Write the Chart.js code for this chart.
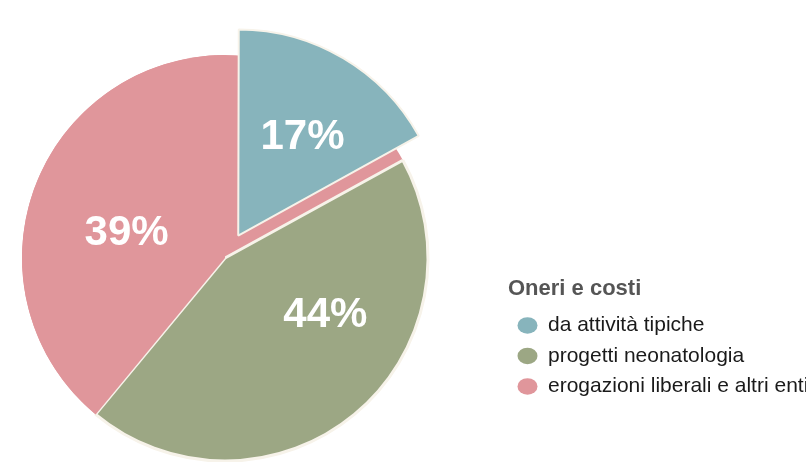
<!DOCTYPE html>
<html>
<head>
<meta charset="utf-8">
<script src="https://cdn.jsdelivr.net/npm/chart.js@4.4.1/dist/chart.umd.min.js"></script>
<style>
  html, body { margin: 0; padding: 0; background: #fff; }
  #frame { position: relative; width: 806px; height: 462px; overflow: hidden; }
  /* chart box is a bit bigger than the page so the pie sits left and low like the original */
  #wrap { position: absolute; left: -58px; top: 0; width: 864px; height: 516px; }
</style>
</head>
<body>
<div id="frame"><div id="wrap"><canvas id="pie-chart"></canvas></div></div>
<script>
// values
var categories = ["da attività tipiche", "progetti neonatologia", "erogazioni liberali e altri enti"];
var shares = [17, 44, 39];
var legendTitle = "Oneri e costi";

var sliceColors = ["#87b4bc", "#9ca784", "#e0969b"];
// where each % label sits: fraction along the slice angle, fraction of the radius
var labelAlong = [0.54, 0.37, 0.46];
var labelOut = [0.58, 0.57, 0.50];

Chart.defaults.font.family = "'Liberation Sans', Arial, sans-serif";

// pink disc under the pie, shows through where the first slice is pulled out
var underDisc = {
  id: 'underDisc',
  beforeDatasetsDraw(chart) {
    var arc = chart.getDatasetMeta(0).data[0];
    var ctx = chart.ctx;
    ctx.save();
    ctx.fillStyle = sliceColors[2];
    ctx.beginPath();
    ctx.arc(arc.x, arc.y, arc.outerRadius, 0, Math.PI * 2);
    ctx.fill();
    ctx.restore();
  }
};

// white percentages inside the slices
var pctLabels = {
  id: 'pctLabels',
  afterDatasetsDraw(chart) {
    var ctx = chart.ctx;
    var meta = chart.getDatasetMeta(0);
    ctx.save();
    ctx.fillStyle = "#fff";
    ctx.font = "bold 42px 'Liberation Sans', Arial, sans-serif";
    ctx.textAlign = "center";
    ctx.textBaseline = "middle";
    meta.data.forEach(function (arc, i) {
      var p = arc.getProps(['x', 'y', 'startAngle', 'endAngle', 'outerRadius'], true);
      var off = (arc.options.offset || 0) / 4; // arc element moves by offset/4
      var mid = (p.startAngle + p.endAngle) / 2;
      var a = p.startAngle + (p.endAngle - p.startAngle) * labelAlong[i];
      var x = p.x + Math.cos(mid) * off + Math.cos(a) * p.outerRadius * labelOut[i];
      var y = p.y + Math.sin(mid) * off + Math.sin(a) * p.outerRadius * labelOut[i];
      ctx.fillText(shares[i] + "%", x, y);
    });
    ctx.restore();
  }
};

var pieLegendLabels = Chart.overrides.pie.plugins.legend.labels.generateLabels;

var mychart = new Chart(document.getElementById("pie-chart"), {
  type: 'pie',
  data: {
    labels: categories,
    datasets: [{
      data: shares,
      backgroundColor: sliceColors,
      borderColor: "#f7f3ea",
      borderWidth: [2, 3, 0],
      offset: [104, 0, 0]
    }]
  },
  options: {
    responsive: true,
    maintainAspectRatio: false,
    animation: false,
    radius: 203,
    plugins: {
      tooltip: { enabled: false },
      legend: {
        position: 'right',
        align: 'start',
        maxWidth: 298,
        title: {
          display: true,
          text: legendTitle,
          position: 'start',
          color: "#555",
          font: { size: 22, weight: 'bold' },
          padding: { top: 278, bottom: 1 }
        },
        labels: {
          color: "#1a1a1a",
          font: { size: 21 },
          padding: 9.5,
          usePointStyle: true,
          pointStyle: 'circle',
          pointStyleWidth: 20,
          boxHeight: 11.7,
          generateLabels: function (chart) {
            var items = pieLegendLabels(chart);
            items.forEach(function (it) { it.lineWidth = 0; });
            return items;
          }
        }
      }
    }
  },
  plugins: [underDisc, pctLabels]
});
</script>
</body>
</html>
